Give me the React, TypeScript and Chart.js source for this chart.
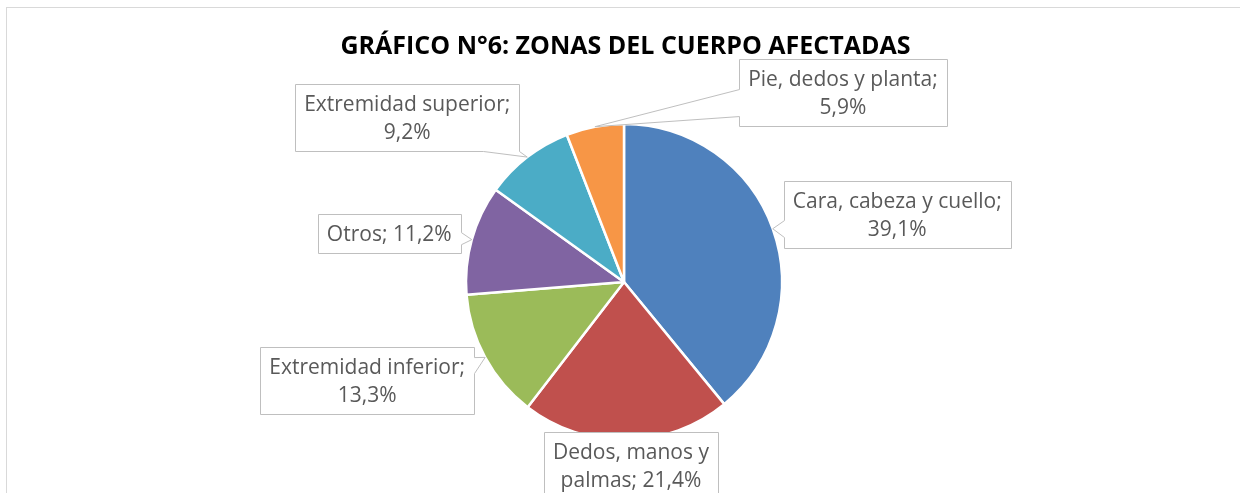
import React, { useEffect, useRef } from 'react';
import { Chart, registerables } from 'chart.js';

Chart.register(...registerables);

const TITLE = 'GRÁFICO N°6: ZONAS DEL CUERPO AFECTADAS';
const CATEGORIES = [
  'Cara, cabeza y cuello',
  'Dedos, manos y palmas',
  'Extremidad inferior',
  'Otros',
  'Extremidad superior',
  'Pie, dedos y planta',
];
const VALUES = [39.1, 21.4, 13.3, 11.2, 9.2, 5.9];
const COLORS = ['#4F81BD', '#C0504D', '#9BBB59', '#8064A2', '#4BACC6', '#F79646'];

// callout box: centre offset from the slice's outer mid-point, wrap width, pointer side/position
const LABEL_LAYOUT = [
  { dx: 124.5, dy: -14.5, wrap: 225, side: 'left', at: 0.71, half: 8.5 },
  { dx: 4.5, dy: 25.5, wrap: 170, side: 'none', at: 0.5, half: 0 },
  { dx: -118, dy: 23.5, wrap: 210, side: 'right', at: 0.27, half: 8 },
  { dx: -82.5, dy: -6.5, wrap: 210, side: 'right', at: 0.62, half: 6 },
  { dx: -120, dy: -39.5, wrap: 215, side: 'bottom', at: 0.92, half: 18 },
  { dx: 248, dy: -34.5, wrap: 205, side: 'left', at: 0.65, half: 13.5 },
];

const FONT_FAMILY = '"Open Sans", Lato, sans-serif';
const LABEL_FONT = `21px ${FONT_FAMILY}`;
const TITLE_FONT = `bold 25px ${FONT_FAMILY}`;
const LINE_H = 28;
const PAD_X = 9;
const PAD_Y = 5.5;

const fmt = (v: number) => v.toFixed(1).replace('.', ',');

function wrapText(ctx: CanvasRenderingContext2D, text: string, maxW: number): string[] {
  const words = text.split(' ');
  const lines: string[] = [];
  let cur = '';
  for (const w of words) {
    const test = cur ? cur + ' ' + w : w;
    if (cur && ctx.measureText(test).width > maxW) {
      lines.push(cur);
      cur = w;
    } else cur = test;
  }
  if (cur) lines.push(cur);
  return lines;
}

const framePlugin = {
  id: 'frame',
  beforeDraw(chart: any) {
    const ctx = chart.ctx;
    ctx.save();
    ctx.fillStyle = '#ffffff';
    ctx.fillRect(0, 0, chart.width, chart.height);
    ctx.strokeStyle = '#D9D9D9';
    ctx.lineWidth = 1;
    ctx.strokeRect(6.5, 7.5, chart.width + 20, chart.height + 20);
    ctx.restore();
  },
  afterDraw(chart: any) {
    const ctx = chart.ctx;
    ctx.save();
    ctx.font = TITLE_FONT;
    ctx.fillStyle = '#000000';
    ctx.textAlign = 'center';
    ctx.textBaseline = 'alphabetic';
    ctx.fillText(TITLE, chart.width / 2 + 5.5, 54);
    ctx.restore();
  },
};

const calloutPlugin = {
  id: 'callouts',
  afterDatasetsDraw(chart: any) {
    const ctx: CanvasRenderingContext2D = chart.ctx;
    const meta = chart.getDatasetMeta(0);
    ctx.save();
    ctx.font = LABEL_FONT;
    meta.data.forEach((arc: any, i: number) => {
      const mid = (arc.startAngle + arc.endAngle) / 2;
      const ax = arc.x + Math.cos(mid) * arc.outerRadius;
      const ay = arc.y + Math.sin(mid) * arc.outerRadius;
      const L = LABEL_LAYOUT[i];
      const text = `${CATEGORIES[i]}; ${fmt(VALUES[i])}%`;
      const lines = wrapText(ctx, text, L.wrap);
      const tw = Math.max(...lines.map((l) => ctx.measureText(l).width));
      const w = Math.round(tw + 2 * PAD_X);
      const h = Math.round(lines.length * LINE_H + 2 * PAD_Y);
      const cx = ax + L.dx;
      const cy = ay + L.dy;
      const left = Math.round(cx - w / 2) + 0.5;
      const top = Math.round(cy - h / 2) + 0.5;
      const r = left + w;
      const b = top + h;
      ctx.beginPath();
      ctx.moveTo(left, top);
      ctx.lineTo(r, top);
      if (L.side === 'right') {
        const c = top + L.at * h;
        ctx.lineTo(r, c - L.half);
        ctx.lineTo(ax, ay);
        ctx.lineTo(r, c + L.half);
      }
      ctx.lineTo(r, b);
      if (L.side === 'bottom') {
        const c = left + L.at * w;
        ctx.lineTo(Math.min(c + L.half, r), b);
        ctx.lineTo(ax, ay);
        ctx.lineTo(c - L.half, b);
      }
      ctx.lineTo(left, b);
      if (L.side === 'left') {
        const c = top + L.at * h;
        ctx.lineTo(left, c + L.half);
        ctx.lineTo(ax, ay);
        ctx.lineTo(left, c - L.half);
      }
      ctx.closePath();
      ctx.fillStyle = '#ffffff';
      ctx.fill();
      ctx.strokeStyle = '#BFBFBF';
      ctx.lineWidth = 1;
      ctx.stroke();
      ctx.fillStyle = '#595959';
      ctx.textAlign = 'center';
      ctx.textBaseline = 'middle';
      lines.forEach((ln, k) => {
        ctx.fillText(ln, cx, top + PAD_Y + LINE_H * (k + 0.5) + 1);
      });
    });
    ctx.restore();
  },
};

export default function App() {
  const ref = useRef<HTMLCanvasElement | null>(null);
  useEffect(() => {
    document.body.style.margin = '0';
    const canvas = ref.current;
    if (!canvas) return;
    const chart = new Chart(canvas, {
      type: 'pie',
      data: {
        labels: CATEGORIES,
        datasets: [
          {
            data: VALUES,
            backgroundColor: COLORS,
            borderColor: '#ffffff',
            borderWidth: 2.5,
            hoverOffset: 0,
          },
        ],
      },
      options: {
        responsive: false,
        animation: false,
        events: [],
        radius: 158,
        layout: { padding: { left: 466, right: 458, top: 124, bottom: 53 } },
        plugins: {
          legend: { display: false },
          tooltip: { enabled: false },
          title: { display: false },
        },
      } as any,
      plugins: [framePlugin, calloutPlugin],
    });
    return () => chart.destroy();
  }, []);
  return (
    <div style={{ width: 1240, height: 493 }}>
      <canvas ref={ref} width={1240} height={493} style={{ display: 'block' }} />
    </div>
  );
}
